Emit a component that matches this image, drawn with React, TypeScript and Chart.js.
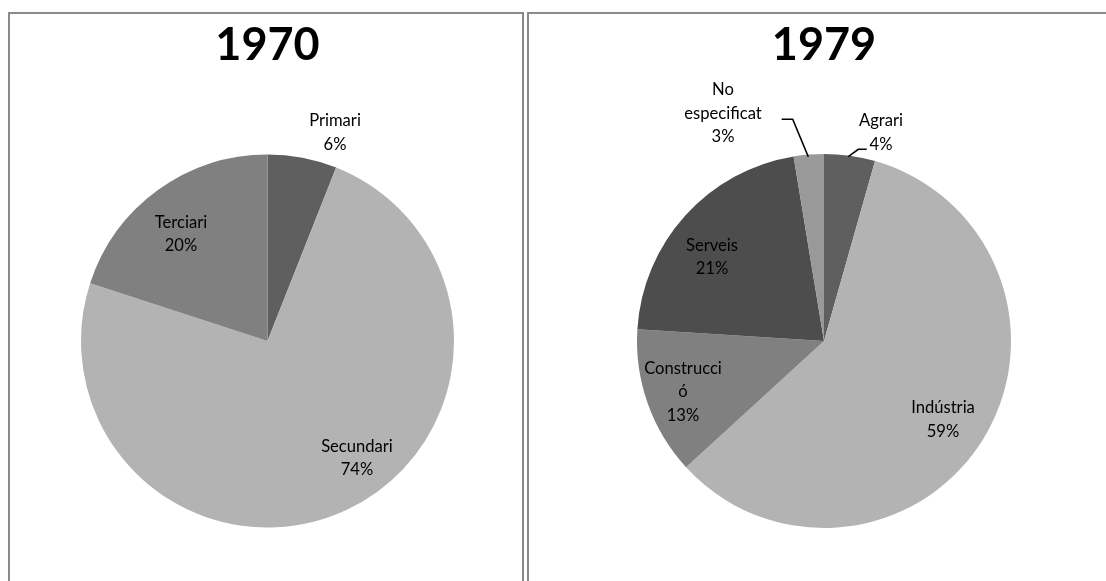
import React, { useEffect, useRef } from "react";
import { Chart, registerables } from "chart.js";
Chart.register(...registerables);

// ---- data ----
const categories1970 = ["Primari", "Secundari", "Terciari"];
const values1970 = [6, 74, 20];
const categories1979 = ["Agrari", "Indústria", "Construcció", "Serveis", "No especificat"];
const values1979 = [4.4, 58.8, 12.8, 21.4, 2.6];

// ---- styles ----
const colors1970 = ["#5f5f5f", "#b3b3b3", "#808080"];
const colors1979 = ["#5f5f5f", "#b3b3b3", "#808080", "#4d4d4d", "#999999"];
// how category names wrap inside the data labels
const wrap: Record<string, string[]> = {
  "Construcció": ["Construcci", "ó"],
  "No especificat": ["No", "especificat"],
};
// label centres relative to the pie centre (px)
const offsets1970 = [[67.5, -208.5], [89.5, 117], [-86.5, -107]];
const offsets1979 = [[57, -208.5], [119, 78.5], [-141, 51], [-112, -84], [-101, -227.5]];
// leader lines relative to pie centre
const leaders1979: (number[][] | null)[] = [
  [[24.3, -184.3], [34.3, -191.7], [42.7, -191.7]],
  null,
  null,
  null,
  [[-15.7, -184.3], [-31.3, -221.7], [-42.3, -221.7]],
];

const FONT = "Lato, 'Open Sans', sans-serif";

const labelPlugin = {
  id: "pieLabels",
  afterDatasetsDraw(chart: any, _args: any, opts: any) {
    const meta = chart.getDatasetMeta(0);
    const arc: any = meta.data[0];
    if (!arc) return;
    const cx = arc.x, cy = arc.y;
    const ctx = chart.ctx;
    ctx.save();
    // title
    ctx.fillStyle = "#000";
    ctx.font = `bold 45px ${FONT}`;
    ctx.textAlign = "center";
    ctx.textBaseline = "middle";
    ctx.fillText(opts.title, cx, cy + opts.titleDy);
    // leaders
    ctx.strokeStyle = "#000";
    ctx.lineWidth = 1.6;
    (opts.leaders || []).forEach((pts: number[][] | null) => {
      if (!pts) return;
      ctx.beginPath();
      pts.forEach((p, i) => {
        if (i === 0) ctx.moveTo(cx + p[0], cy + p[1]);
        else ctx.lineTo(cx + p[0], cy + p[1]);
      });
      ctx.stroke();
    });
    // labels
    const labels: string[] = chart.data.labels;
    const vals: number[] = chart.data.datasets[0].data;
    const total = vals.reduce((a, b) => a + b, 0);
    ctx.font = `16.6px ${FONT}`;
    const lh = 23.5;
    labels.forEach((name, i) => {
      const lines = [...(wrap[name] || [name]), Math.round((vals[i] / total) * 100) + "%"];
      const [dx, dy] = opts.offsets[i];
      const startY = cy + dy - ((lines.length - 1) * lh) / 2;
      lines.forEach((t, k) => ctx.fillText(t, cx + dx, startY + k * lh));
    });
    ctx.restore();
  },
};

function PieChart(props: {
  labels: string[];
  values: number[];
  colors: string[];
  title: string;
  offsets: number[][];
  leaders?: (number[][] | null)[];
  padding: { left: number; right: number; top: number; bottom: number };
  box: { left: number; top: number; width: number; height: number };
}) {
  const ref = useRef<HTMLCanvasElement>(null);
  useEffect(() => {
    if (!ref.current) return;
    const chart = new Chart(ref.current, {
      type: "pie",
      data: {
        labels: props.labels,
        datasets: [
          {
            data: props.values,
            backgroundColor: props.colors,
            borderWidth: 0,
          },
        ],
      },
      options: {
        animation: false,
        responsive: false,
        layout: { padding: props.padding },
        plugins: {
          legend: { display: false },
          tooltip: { enabled: false },
          title: { display: false },
          pieLabels: {
            title: props.title,
            titleDy: -296,
            offsets: props.offsets,
            leaders: props.leaders,
          },
        } as any,
      },
      plugins: [labelPlugin],
    });
    return () => chart.destroy();
  }, []);
  return (
    <canvas
      ref={ref}
      width={props.box.width}
      height={props.box.height}
      style={{
        position: "absolute",
        left: props.box.left,
        top: props.box.top,
        width: props.box.width,
        height: props.box.height,
      }}
    />
  );
}

export default function App() {
  return (
    <div style={{ position: "fixed", left: 0, top: 0, width: 1106, height: 581, overflow: "hidden", background: "#fff" }}>
      <div
        style={{
          position: "absolute",
          left: 8,
          top: 12,
          width: 516,
          height: 640,
          border: "2px solid #8a8a8a",
          boxSizing: "border-box",
        }}
      />
      <div
        style={{
          position: "absolute",
          left: 527,
          top: 12,
          width: 640,
          height: 640,
          border: "2px solid #8a8a8a",
          boxSizing: "border-box",
        }}
      />
      <PieChart
        labels={categories1970}
        values={values1970}
        colors={colors1970}
        title="1970"
        offsets={offsets1970}
        padding={{ left: 71, right: 66, top: 140.5, bottom: 53.5 }}
        box={{ left: 10, top: 14, width: 510, height: 567 }}
      />
      <PieChart
        labels={categories1979}
        values={values1979}
        colors={colors1979}
        title="1979"
        offsets={offsets1979}
        leaders={leaders1979}
        padding={{ left: 108, right: 95, top: 140, bottom: 53 }}
        box={{ left: 529, top: 14, width: 577, height: 567 }}
      />
    </div>
  );
}
